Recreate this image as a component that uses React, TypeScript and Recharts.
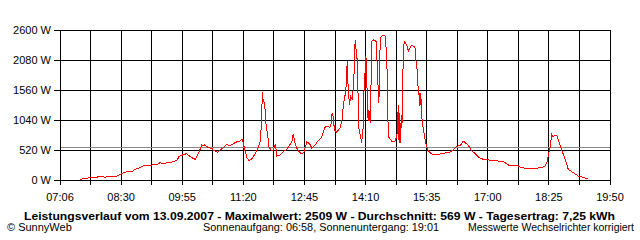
import React from 'react';
import { LineChart, Line, XAxis, YAxis, CartesianGrid, ReferenceLine } from 'recharts';

// time of day in minutes since midnight
const minutes: number[] = [
  454, 461, 470, 477, 479, 486, 488, 491, 502, 507, 512, 519, 526, 530, 537, 541, 548, 554, 561, 565,
  569, 575, 579, 583, 589, 591, 597, 602, 604, 609, 614, 616, 619, 623, 625, 627, 632, 637, 639, 641,
  645, 648, 652, 658, 662, 666, 672, 676, 679, 680, 683, 686, 689, 693, 697, 701, 704, 706, 707, 708,
  709, 711, 712, 715, 716, 719, 722, 725, 726, 727, 732, 736, 741, 745, 748, 750, 752, 755, 758, 762,
  765, 769, 773, 776, 780, 784, 787, 790, 794, 797, 801, 803, 804, 806, 807, 810, 812, 815, 818, 819,
  820, 823, 825, 826, 827, 828, 830, 832, 834, 836, 837, 839, 840, 841, 844, 845, 847, 848, 851, 852,
  854, 855, 857, 858, 859, 862, 865, 866, 868, 869, 870, 872, 875, 878, 880, 881, 882, 887, 891, 894,
  896, 897, 898, 899, 900, 901, 902, 904, 906, 908, 910, 912, 915, 917, 919, 920, 922, 924, 925, 926,
  927, 928, 929, 932, 934, 938, 942, 947, 954, 961, 968, 972, 977, 982, 984, 986, 990, 993, 997, 1003,
  1008, 1014, 1021, 1030, 1042, 1047, 1051, 1063, 1067, 1074, 1086, 1093, 1099, 1102, 1105, 1107, 1109, 1111, 1114, 1116,
  1119, 1123, 1128, 1132, 1139, 1146, 1153, 1160,
];

// power in W
const watts: number[] = [
  12, 29, 40, 40, 58, 58, 46, 58, 58, 75, 116, 144, 144, 185, 214, 243, 243, 260, 272, 300,
  283, 300, 300, 318, 347, 404, 439, 456, 433, 387, 358, 404, 480, 607, 590, 607, 560, 549, 508, 503,
  480, 520, 549, 619, 589, 624, 664, 676, 705, 664, 508, 376, 335, 376, 451, 549, 664, 982, 1531, 1358,
  1387, 1213, 982, 723, 578, 520, 520, 607, 549, 416, 433, 491, 532, 607, 664, 797, 664, 549, 491, 451,
  491, 664, 624, 549, 601, 670, 705, 757, 913, 930, 913, 988, 1161, 1075, 872, 832, 855, 901, 1046, 1219,
  1335, 1537, 2057, 1681, 1480, 1306, 1451, 1393, 1681, 2432, 2288, 2057, 1480, 901, 728, 641, 901, 1480, 2144, 1768,
  1017, 1219, 988, 1624, 2404, 2432, 2404, 2173, 1565, 1335, 2173, 2490, 2509, 2490, 2057, 1480, 757, 670, 670, 757,
  1306, 641, 1161, 641, 1132, 901, 1768, 2404, 2375, 2317, 2241, 2288, 2345, 2317, 2317, 2115, 1912, 1479, 1508, 1277,
  1508, 1306, 1017, 786, 641, 497, 451, 439, 451, 468, 485, 525, 584, 601, 624, 676, 636, 607, 520, 451,
  387, 358, 347, 335, 318, 277, 243, 243, 214, 202, 202, 214, 231, 289, 462, 578, 792, 751, 780, 780,
  664, 520, 347, 185, 127, 69, 46, 12,
];

const xTickLabels: string[] = ['07:06', '08:30', '09:55', '11:20', '12:45', '14:10', '15:35', '17:00', '18:25', '19:50'];
const yTicks: number[] = [0, 520, 1040, 1560, 2080, 2600];
const averageW = 569;

const titleText = 'Leistungsverlauf vom 13.09.2007 - Maximalwert: 2509 W - Durchschnitt: 569 W - Tagesertrag: 7,25 kWh';
const footLeft = '© SunnyWeb';
const footMid = 'Sonnenaufgang: 06:58, Sonnenuntergang: 19:01';
const footRight = 'Messwerte Wechselrichter korrigiert';

const toMin = (s: string) => {
  const [h, m] = s.split(':').map(Number);
  return h * 60 + m;
};

const xStart = toMin(xTickLabels[0]);
const xEnd = toMin(xTickLabels[xTickLabels.length - 1]);
const steps = (xTickLabels.length - 1) * 2;
const xTicks: number[] = Array.from({ length: steps + 1 }, (_, i) => xStart + ((xEnd - xStart) * i) / steps);

const data = minutes.map((t, i) => ({ t, w: watts[i] }));

const font = "'Liberation Sans', Arial, sans-serif";

export default function App() {
  return (
    <div style={{ position: 'absolute', left: 0, top: 0, width: 640, height: 240, background: '#fff' }}>
      <style>{`.recharts-cartesian-grid line, .recharts-cartesian-axis-tick-line, .recharts-cartesian-axis-line, .recharts-reference-line line, .recharts-line-curve { shape-rendering: crispEdges; }`}</style>
      <LineChart width={640} height={240} data={data} margin={{ top: 30, right: 30, bottom: 0, left: 0 }}>
        <CartesianGrid stroke="#000" strokeWidth={1} />
        <XAxis
          dataKey="t"
          type="number"
          domain={[xStart, xEnd]}
          ticks={xTicks}
          interval={0}
          height={60}
          tickSize={5}
          tickMargin={8}
          axisLine={{ stroke: '#000' }}
          tickLine={{ stroke: '#000' }}
          tick={{ fill: '#000', fontSize: 11, fontFamily: font }}
          tickFormatter={(v: number) => {
            const idx = xTicks.findIndex((x) => Math.abs(x - v) < 0.01);
            return idx % 2 === 0 ? xTickLabels[idx / 2] : '';
          }}
        />
        <YAxis
          type="number"
          domain={[0, 2600]}
          ticks={yTicks}
          interval={0}
          width={60}
          tickSize={6}
          tickMargin={3}
          axisLine={{ stroke: '#000' }}
          tickLine={{ stroke: '#000' }}
          tick={{ fill: '#000', fontSize: 11, fontFamily: font }}
          tickFormatter={(v: number) => `${v} W`}
        />
        <ReferenceLine y={averageW} stroke="#888" strokeWidth={1} />
        <Line
          type="linear"
          dataKey="w"
          stroke="#ff0000"
          strokeWidth={1}
          dot={false}
          activeDot={false}
          isAnimationActive={false}
        />
      </LineChart>
      <svg width={640} height={240} style={{ position: 'absolute', left: 0, top: 0, pointerEvents: 'none' }}>
        <text x={24} y={220} fontFamily={font} fontSize={11} fontWeight="bold" fill="#000" textLength={591} lengthAdjust="spacingAndGlyphs">
          {titleText}
        </text>
        <text x={7} y={231} fontFamily={font} fontSize={11} fill="#000">
          {footLeft}
        </text>
        <text x={203} y={231} fontFamily={font} fontSize={10.5} fill="#000" textLength={236} lengthAdjust="spacingAndGlyphs">
          {footMid}
        </text>
        <text x={634} y={231} textAnchor="end" fontFamily={font} fontSize={10.5} fill="#000" textLength={166} lengthAdjust="spacingAndGlyphs">
          {footRight}
        </text>
      </svg>
    </div>
  );
}
